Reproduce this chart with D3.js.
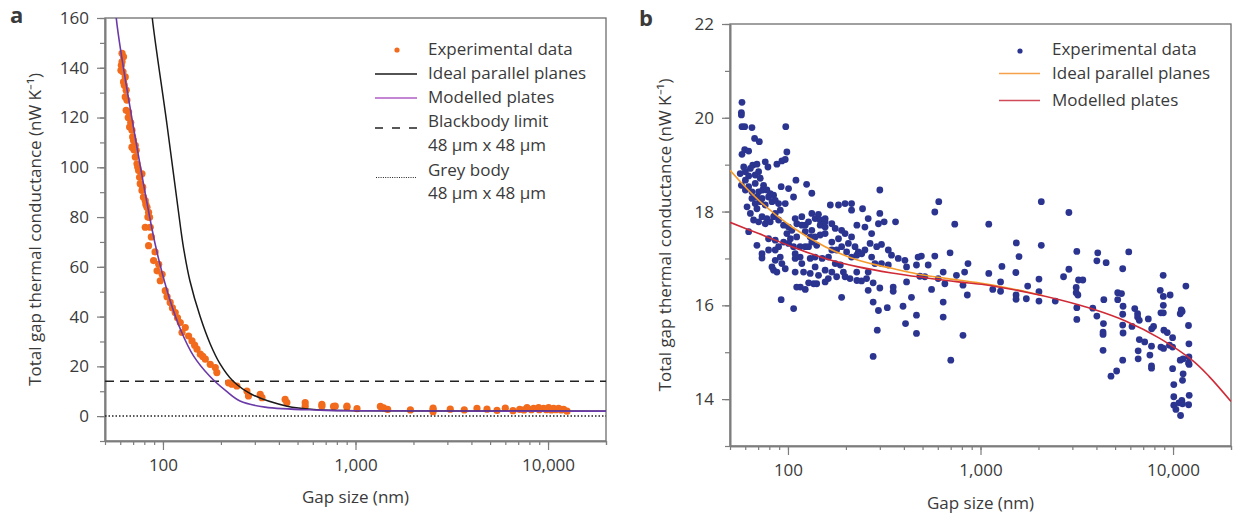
<!DOCTYPE html>
<html><head><meta charset="utf-8">
<script src="https://cdn.jsdelivr.net/npm/d3@7"></script>
<style>
html,body{margin:0;padding:0;background:#fff;}
svg{display:block;}
text{font-family:"Open Sans",sans-serif;fill:#3a3a3a;}
</style></head>
<body><svg id="c" width="1236" height="517"></svg>
<script>
// ---------- DATA ----------
const gapDomain = [50, 20000];
const xMajorTicks = [100, 1000, 10000];
const yTicksA = [0, 20, 40, 60, 80, 100, 120, 140, 160];
const yTicksB = [14, 16, 18, 20, 22];

// Panel a: experimental data [gap nm, conductance nW/K]
const expA = [
[61.3,145.8],[62.4,144.4],[61.3,142.4],[60.8,141],[60.5,139.0],[62.0,138.4],[63.7,136.3],[62.4,134.3],[63.0,133],[64.4,131.0],
[63.7,128.3],[65.0,127.0],[64.4,122.9],[66.3,122.2],[66.0,120],[68,118],[67.1,116.2],[69.0,114.9],[69.6,112.2],[70.3,110.8],
[71.8,108.8],[69.0,108.1],[70.8,107],[72.6,106.8],[71.8,104.1],[73.3,101.4],[74,100],[74.7,98.7],[77.8,97.4],[75.6,96.0],
[76.2,93.4],[78.5,92],[77.8,90.7],[79.2,88.0],[80.9,86.6],[81.5,85],[82.6,83.9],[84.2,81.9],[83.5,80],[85.2,79.9],[85.9,75.9],
[80.9,75.9],[87,72],[84.2,68.5],[91,66],[89.4,62.5],[95,61],[93.2,58.4],[99,57],[96.8,54.4],[102.8,50.4],[105,48],
[109,45.7],[112,43.5],[115.8,41.6],[119,39.5],[123,37.6],[130.6,35.6],[125.6,33.6],[135.9,32.2],[141.5,30.2],[146,28.5],
[150.3,26.9],[156.3,24.9],[161,24],[166,22.9],[176,20.8],[187,19.5],[190.5,17.5],[219,13.4],[228,12.8],[242,12.1],
[273,10.1],[278,8.1],[320,8.7],[327,7.4],[431,6.7],[440,5.4],[548,5.4],[548,4.0],[669,4.7],[669,4.0],[769,3.9],[785,4.0],
[903,4.0],[903,3.6],[1018,3.0],[1346,3.9],[1400,3.3],[1469,2.7],[1928,2.5],[2529,3.2],[2529,1.8],[2529,2.5],[3106,2.8],
[3672,2.5],[4275,3.1],[4819,2.8],[5433,2.3],[5998,3.2],[6574,2.2],[7123,2.7],[7500,2.5],[7783,3.4],[8200,2.6],[8419,3.1],
[8935,3.4],[9000,2.6],[9485,3.1],[9800,2.6],[10070,3.4],[10400,2.5],[10690,3.1],[11000,2.6],[11350,3.1],[11700,2.5],
[12050,2.7],[12550,2.0]
];
// Panel a: model curves [gap nm, conductance]
const idealA = [[86,170],[88,160],[105,117],[124,74.6],[128.6,66.5],[138,54.4],[156,40],[176,29],[198,21],[231,14.1],[290,8.7],[441,4.0],[630,2.6],[1000,2.2],[3000,2.05],[20000,2.0]];
const modelA = [[56.6,170],[57.2,160],[87.4,75.8],[95.4,62.5],[109.1,46.3],[124.1,34.3],[144.1,24.2],[174.6,16.1],[212.6,10.1],[251.3,6.05],[339,3.6],[654,2.4],[1000,2.15],[3000,2.05],[20000,2.0]];
const blackbodyA = 14;
const greyBodyA = 0;

// Panel b: experimental data [gap nm, conductance nW/K]
const expB = [
[57.7,20.33],[57.3,20.11],[57.3,20.06],[57.7,19.81],[59.6,19.81],[65.0,19.79],[97.4,19.81],[67.1,19.56],[71.0,19.49],[59.6,19.32],
[62.5,19.29],[57.7,19.22],[98.7,19.27],[87.6,19.01],[93.0,19.08],[96.8,19.11],[65.6,18.99],[69.0,19.01],[76.2,19.06],[78.7,18.95],
[70.4,18.85],[60.1,18.85],[62.5,18.76],[57.3,18.56],[60.1,18.46],[65.0,18.42],[70.4,18.42],[73.9,18.46],[67.6,18.60],[110,18.67],
[125,18.58],[133,18.39],[92.2,18.53],[100.7,18.49],[106.9,18.31],[79.3,18.31],[82.6,18.21],[89.4,18.17],[65.0,18.28],[61.3,18.10],
[69.0,18.06],[73.3,17.89],[77.7,17.85],[85.9,17.96],[91.2,18.03],[96.8,18.17],[109,17.85],[118,17.89],[133,17.96],[144,17.94],
[156,17.85],[166,18.14],[183,18.14],[198,18.17],[214,18.17],[214,18.03],[244,18.06],[261,17.85],[300,18.46],[316,17.78],
[362,17.78],[300,17.96],[295,17.74],[272,17.53],[251,17.67],[228,17.71],[214,17.46],[190,17.60],[176,17.64],[156,17.67],
[147,17.71],[133,17.60],[123,17.71],[111,17.46],[103,17.42],[98.7,17.53],[85.9,17.39],[79.3,17.42],[62.5,17.57],[69.0,17.28],
[73.3,17.10],[73.3,17.01],[82.6,16.82],[84.2,16.75],[87.6,16.71],[93.0,16.89],[96.8,16.78],[109,17.10],[109,17.00],[118,16.89],
[120.5,16.71],[130.5,16.68],[123,17.25],[133,17.35],[141,17.28],[147,17.50],[156,17.53],[169,17.35],[183,17.42],[198,17.53],
[206,17.32],[223,17.25],[232,17.14],[251,17.18],[267,17.32],[289,17.25],[306,17.30],[332,17.18],[345,17.07],[374,17.00],
[405,16.96],[413,16.82],[465,16.86],[474,17.03],[493,17.05],[535,16.86],[579,17.05],[640,16.71],[695,17.12],[861,16.89],
[827,16.71],[750,16.64],[653,16.46],[603,16.57],[557,16.34],[514,16.61],[484,16.62],[438,16.17],[413,16.50],[352,16.39],
[352,16.30],[332,16.86],[306,16.89],[261,16.71],[261,16.32],[277,16.48],[300,16.37],[256,16.57],[241,16.52],[228,16.53],
[210,16.57],[194,16.71],[187,16.86],[176,16.89],[169,16.71],[162,16.57],[156,16.50],[141,16.46],[136,16.46],[128,16.48],
[123,16.34],[116,16.39],[111,16.39],[109,16.71],[92.2,16.12],[107,15.93],[190,16.17],[277,16.07],[295,15.89],[328,15.95],
[396,15.98],[465,15.79],[408,15.61],[291,15.47],[277,14.91],[465,15.40],[640,15.75],[640,16.07],[811,16.43],[854,16.22],
[811,15.36],[701,14.83],[579,17.99],[607,18.21],[735,17.73],
[63.8,18.92],[67.6,18.78],[71.8,18.71],[74.7,18.56],[77.7,18.46],[80.9,18.38],[84.2,18.35],[85.9,18.24],[76.2,18.14],[71.8,18.21],
[67.6,18.17],[63.8,17.96],[66.3,17.82],[70.4,17.78],[76.2,17.74],[80.9,17.78],[84.2,17.89],[89.4,17.82],[94.9,17.71],[100.7,17.67],
[104.8,17.60],[111.2,17.74],[118.1,17.71],[127.9,17.78],[138.4,17.85],[146.9,17.82],[156,17.78],[169,17.74],[122.9,17.57],[130.5,17.46],
[138.4,17.46],[127.9,17.25],[115.7,17.25],[106.9,17.25],[100.7,17.32],[94.9,17.35],[89.4,17.25],[85.9,17.18],[79.3,17.18],[115.7,17.03],
[130.5,17.00],[138.4,17.03],[150.6,17.00],[162.4,17.03],[169,17.18],[179,17.18],[190,17.25],[201.7,17.14],[214,17.03],[227.6,17.07],
[241.5,17.10],[272,17.03],[283,16.89],[227.6,16.71],[198,16.61],[179,16.61],[156,16.75],[144.1,16.64],[138.4,16.82],[85.9,16.96],
[91.2,17.03],[60.1,18.67],[62.5,18.53],[69.0,18.31],[73.3,18.28],[58.9,18.95],[56.5,18.81],
[2069,18.21],[2878,17.98],[1104,17.73],[1535,17.33],[2069,17.28],[1585,17.04],[3164,17.15],[4064,17.12],[4021,16.95],[4493,16.91],
[5888,17.14],[5477,16.78],[1104,16.68],[1292,16.83],[1526,16.70],[2012,16.56],[2700,16.61],[2878,16.77],[1158,16.34],[1271,16.50],
[1271,16.30],[1530,16.22],[1530,16.13],[1758,16.41],[1730,16.14],[2012,16.29],[2012,16.09],[2445,16.09],[3140,16.38],[3140,16.27],
[3205,16.22],[3230,16.54],[3400,16.54],[3164,15.95],[3164,15.70],[3830,15.94],[4021,15.77],[4351,15.61],[4370,16.12],[4330,15.43],
[4330,15.38],[4330,15.04],[5160,16.27],[5400,16.25],[5160,16.12],[5500,15.98],[5477,15.81],[5477,15.58],[5500,15.41],[6327,15.93],
[6544,15.82],[6544,15.75],[6680,15.68],[6122,15.55],[7439,15.71],[7923,15.55],[7746,15.50],[6680,15.27],[7125,15.22],[6590,15.03],
[6590,14.86],[7730,15.13],[7581,14.94],[7730,14.71],[7730,14.66],[4761,14.49],[5094,14.60],[5477,14.83],[8887,16.64],[8582,16.32],
[8904,16.19],[9659,16.22],[8904,16.00],[8650,15.84],[8904,15.84],[8963,15.47],[9328,15.42],[8650,15.11],[8930,15.08],[9582,15.15],
[9947,15.31],[9947,15.11],[9947,14.65],[10090,14.31],[10090,14.05],[10090,13.87],[10350,13.78],[10730,13.92],[10940,13.65],[11110,13.97],
[11200,13.90],[12130,14.08],[12050,13.88],[11280,14.54],[11200,14.40],[10900,14.83],[11280,14.86],[12030,14.77],[12120,14.74],[12090,14.90],
[12090,15.18],[12030,15.57],[11660,16.41],[11030,15.90],[10900,15.82],[11150,15.87]
];
const idealB = [[50,18.88],[70.5,18.24],[105,17.67],[156,17.25],[232,16.96],[346,16.79],[514,16.64],[766,16.54],[1052,16.46],[1730,16.29],[2100,16.21]];
const modelB = [[50,17.77],[70.5,17.53],[105,17.25],[156,17.0],[232,16.82],[346,16.69],[514,16.59],[766,16.50],[1052,16.44],[1730,16.28],[2575,16.12],[3830,15.92],[5700,15.66],[8490,15.30],[12650,14.82],[15420,14.48],[20000,13.95]];

const legendA = ["Experimental data","Ideal parallel planes","Modelled plates","Blackbody limit","48 µm x 48 µm","Grey body","48 µm x 48 µm"];
const legendB = ["Experimental data","Ideal parallel planes","Modelled plates"];

// ---------- DRAW ----------
const svg = d3.select("#c");
const axisCol = "#7d7d7d";
const FS = 17;
const minorVals = [];
for (let p = 10; p <= 10000; p *= 10) for (let m = 1; m <= 9; m++) { const v = m*p; if (v >= gapDomain[0] && v <= gapDomain[1]) minorVals.push(v); }
minorVals.push(20000);
const fmt = d3.format(",");

function panel(cfg) {
  const {x0,x1,y0,y1,yDomain,yTicks,yMinor,clipId} = cfg;
  const x = d3.scaleLog().domain(gapDomain).range([x0,x1]);
  const y = d3.scaleLinear().domain(yDomain).range([y1,y0]);
  const g = svg.append("g");
  svg.append("clipPath").attr("id",clipId).append("rect").attr("x",x0).attr("y",y0).attr("width",x1-x0).attr("height",y1-y0);
  g.append("rect").attr("x",x0).attr("y",y0).attr("width",x1-x0).attr("height",y1-y0)
    .attr("fill","none").attr("stroke","#6e6e6e").attr("stroke-width",1.3);
  const xm = g.append("g").attr("transform",`translate(0,${y1})`)
    .call(d3.axisBottom(x).tickValues(minorVals).tickSize(4).tickSizeOuter(0).tickFormat(""));
  const xM = g.append("g").attr("transform",`translate(0,${y1})`)
    .call(d3.axisBottom(x).tickValues(xMajorTicks).tickSize(9).tickPadding(9).tickSizeOuter(0).tickFormat(fmt));
  const ym = g.append("g").attr("transform",`translate(${x0},0)`)
    .call(d3.axisLeft(y).tickValues(yMinor).tickSize(5).tickSizeOuter(0).tickFormat(""));
  const yM = g.append("g").attr("transform",`translate(${x0},0)`)
    .call(d3.axisLeft(y).tickValues(yTicks).tickSize(8).tickPadding(8).tickSizeOuter(0));
  [xm,xM,ym,yM].forEach(a => {
    a.select(".domain").attr("stroke",axisCol).attr("stroke-width",1.6);
    a.selectAll(".tick line").attr("stroke",axisCol).attr("stroke-width",1.2);
    a.selectAll(".tick text").attr("font-family","Open Sans, sans-serif").attr("font-size",FS).attr("fill","#3a3a3a");
  });
  const plot = svg.append("g").attr("clip-path",`url(#${clipId})`);
  return {x,y,plot};
}

// Panel a
const A = panel({x0:105,x1:606,y0:18,y1:441,yDomain:[-10,160],yTicks:yTicksA,yMinor:d3.range(-10,161,10),clipId:"clipA"});
const lineA = d3.line().x(d=>A.x(d[0])).y(d=>A.y(d[1])).curve(d3.curveCatmullRom.alpha(0.5));
A.plot.append("line").attr("x1",105).attr("x2",606).attr("y1",A.y(blackbodyA)).attr("y2",A.y(blackbodyA))
  .attr("stroke","#222").attr("stroke-width",1.5).attr("stroke-dasharray","9,6");
A.plot.append("line").attr("x1",105).attr("x2",606).attr("y1",A.y(greyBodyA)).attr("y2",A.y(greyBodyA))
  .attr("stroke","#222").attr("stroke-width",1.5).attr("stroke-dasharray","1.5,2");
A.plot.selectAll("circle.ea").data(expA).join("circle").attr("class","ea")
  .attr("cx",d=>A.x(d[0])).attr("cy",d=>A.y(d[1])).attr("r",3.6).attr("fill","#f26b1d");
A.plot.append("path").datum(idealA).attr("d",lineA).attr("fill","none").attr("stroke","#1a1a1a").attr("stroke-width",1.5);
A.plot.append("path").datum(modelA).attr("d",lineA).attr("fill","none").attr("stroke","#6a3aa8").attr("stroke-width",1.6);

// Panel b
const B = panel({x0:730,x1:1231,y0:24,y1:446,yDomain:[13,22],yTicks:yTicksB,yMinor:d3.range(13,22.5,1),clipId:"clipB"});
const lineB = d3.line().x(d=>B.x(d[0])).y(d=>B.y(d[1])).curve(d3.curveCatmullRom.alpha(0.5));
B.plot.selectAll("circle.eb").data(expB).join("circle").attr("class","eb")
  .attr("cx",d=>B.x(d[0])).attr("cy",d=>B.y(d[1])).attr("r",3.4).attr("fill","#2b3590");
B.plot.append("path").datum(idealB).attr("d",lineB).attr("fill","none").attr("stroke","#f59a2a").attr("stroke-width",1.6);
B.plot.append("path").datum(modelB).attr("d",lineB).attr("fill","none").attr("stroke","#d02a36").attr("stroke-width",1.6);

// Legends
const legA = svg.append("g");
const rowsA = [49.3,73.3,97.3,121.3,145.3,170,193.3];
legendA.forEach((t,i)=> legA.append("text").attr("x",428).attr("y",rowsA[i]).attr("dy","0.35em").attr("font-size",FS).text(t));
legA.append("circle").attr("cx",397).attr("cy",50).attr("r",2.6).attr("fill","#f26b1d");
legA.append("line").attr("x1",375).attr("x2",417).attr("y1",74).attr("y2",74).attr("stroke","#1a1a1a").attr("stroke-width",1.4);
legA.append("line").attr("x1",375).attr("x2",417).attr("y1",98).attr("y2",98).attr("stroke","#b05cc6").attr("stroke-width",1.4);
legA.append("line").attr("x1",375).attr("x2",417).attr("y1",128).attr("y2",128).attr("stroke","#222").attr("stroke-width",1.3).attr("stroke-dasharray","8,9");
legA.append("line").attr("x1",376).attr("x2",416).attr("y1",177.5).attr("y2",177.5).attr("stroke","#222").attr("stroke-width",1.1).attr("stroke-dasharray","1,1.3");

const legB = svg.append("g");
const rowsB = [49.3,73.3,100];
legendB.forEach((t,i)=> legB.append("text").attr("x",1052).attr("y",rowsB[i]).attr("dy","0.35em").attr("font-size",FS).text(t));
legB.append("circle").attr("cx",1020).attr("cy",51).attr("r",2.6).attr("fill","#2b3590");
legB.append("line").attr("x1",999).attr("x2",1040).attr("y1",73.5).attr("y2",73.5).attr("stroke","#f5a04a").attr("stroke-width",1.4);
legB.append("line").attr("x1",999).attr("x2",1040).attr("y1",100.5).attr("y2",100.5).attr("stroke","#d04a5a").attr("stroke-width",1.4);

// Axis titles
svg.append("text").attr("transform","translate(35,229.5) rotate(-90)").attr("text-anchor","middle").attr("dy","0.35em").attr("font-size",FS)
  .text("Total gap thermal conductance (nW K\u207B\u00B9)");
svg.append("text").attr("transform","translate(665,235) rotate(-90)").attr("text-anchor","middle").attr("dy","0.35em").attr("font-size",FS)
  .text("Total gap thermal conductance (nW K\u207B\u00B9)");
svg.append("text").attr("x",355.5).attr("y",497).attr("dy","0.35em").attr("text-anchor","middle").attr("font-size",FS).text("Gap size (nm)");
svg.append("text").attr("x",980.5).attr("y",503).attr("dy","0.35em").attr("text-anchor","middle").attr("font-size",FS).text("Gap size (nm)");

// Panel labels
svg.append("text").attr("x",10).attr("y",23).attr("font-family","Liberation Serif, serif").attr("font-weight","bold").attr("font-size",22).attr("fill","#111").text("a");
svg.append("text").attr("x",639).attr("y",26).attr("font-family","Liberation Serif, serif").attr("font-weight","bold").attr("font-size",22).attr("fill","#111").text("b");
</script></body></html>
